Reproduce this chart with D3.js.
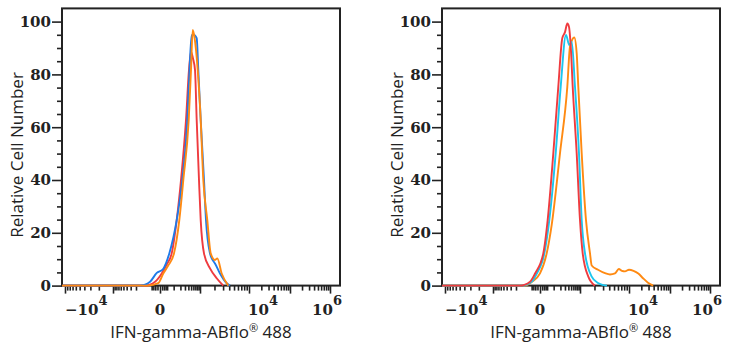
<!DOCTYPE html>
<html>
<head>
<meta charset="utf-8">
<script src="https://cdn.jsdelivr.net/npm/d3@7"></script>
<style>
  body { margin: 0; background: #fff; }
  svg { display: block; }
</style>
</head>
<body>
<svg id="chart" width="732" height="350"></svg>
<script>
// Histogram overlays: fluorescence intensity (biexponential axis) vs. % of mode.
// Each series is a list of [intensity, relative cell number] pairs.
const leftRed = [
  [-11500, 0], [-90, 0], [-21, 1.5], [8, 4.6], [37, 8], [79, 12.2], [139, 24.8],
  [211, 40], [328, 62.7], [421, 81.7], [495, 88.6], [581, 86], [680, 81.7],
  [776, 62.7], [926, 40], [1035, 24.8], [1214, 12.2], [1618, 6.5], [2222, 2.8],
  [3030, 0]
];
const leftBlue = [
  [-11500, 0], [-144, 0], [-50, 1.5], [-13, 4.8], [14, 6.2], [57, 12.2],
  [139, 24.8], [237, 40], [366, 62.7], [439, 81.7], [524, 94.9], [605, 95],
  [776, 93.7], [878, 81.7], [1035, 62.7], [1214, 40], [1336, 24.8], [1618, 12.2],
  [1866, 9.5], [2051, 8.4], [2596, 4.6], [3552, 0.9], [4144, 0]
];
const leftOrange = [
  [-11500, 0], [-63, 0], [-7, 0.9], [16, 4.6], [47, 7.5], [104, 12.2], [180, 24.8],
  [260, 40], [411, 62.7], [495, 81.7], [568, 96.8], [654, 94], [839, 81.7],
  [1035, 62.7], [1174, 40], [1422, 24.8], [1673, 12.2], [2051, 9.7], [2287, 10.3],
  [2811, 4.6], [3828, 0]
];

const rightRed = [
  [-11500, 0], [-144, 0], [-50, 1.5], [-21, 4.6], [16, 12.2], [44, 24.8], [96, 50.1],
  [163, 75.3], [237, 93.7], [301, 96], [366, 99.3], [421, 98], [495, 89],
  [568, 75.3], [776, 50.1], [1000, 24.8], [1140, 12.2], [1492, 3.4], [2051, 0]
];
const rightCyan = [
  [-11500, 0], [-124, 0], [-40, 1.5], [-13, 4.6], [22, 12.2], [57, 24.8], [125, 50.1],
  [205, 75.3], [328, 94.9], [432, 91.1], [524, 92.4], [680, 75.3], [926, 50.1],
  [1086, 24.8], [1274, 12.2], [1754, 3.4], [2363, 1], [3030, 0.2], [3600, 0]
];
const rightOrange = [
  [-11500, 0], [-90, 0], [-38, 1.5], [0, 4.6], [37, 12.2], [79, 23], [192, 50.1],
  [366, 75.3], [457, 90.5], [644, 94], [776, 88], [878, 75.3], [1086, 50.1],
  [1336, 24.8], [1618, 12.2], [1754, 7.6], [2363, 6], [3281, 4.7], [4144, 4.2],
  [5227, 4.6], [6237, 6.3], [7231, 5.6], [8308, 5.4], [10000, 6], [12888, 5.6],
  [16882, 4.6], [21985, 2.8], [29114, 1.1], [39000, 0]
];

// Axis ticks and labels
const yMajorTicks = [0, 20, 40, 60, 80, 100];
const yMinorTicks = [5, 10, 15, 25, 30, 35, 45, 50, 55, 65, 70, 75, 85, 90, 95];
const xMajorTicks = [-1e4, -1e3, 0, 1e3, 1e4, 1e5, 1e6];
const xMinorTicks = [
  -9000, -8000, -7000, -6000, -5000, -4000, -3000, -2000,
  -900, -800, -700, -600, -500, -400, -300, -200,
  -40, -30, -20, -10, 10, 20, 30, 40,
  100, 200, 300, 400, 500, 600, 700, 800, 900,
  2000, 3000, 4000, 5000, 6000, 7000, 8000, 9000,
  20000, 30000, 40000, 50000, 60000, 70000, 80000, 90000,
  200000, 300000, 400000, 500000, 600000, 700000, 800000, 900000
];
const xTickLabels = [
  { value: -1e4, base: "\u221210", exp: "4" },
  { value: 0, base: "0", exp: "" },
  { value: 1e4, base: "10", exp: "4" },
  { value: 1e6, base: "10", exp: "6" }
];
const xTitle = "IFN-gamma-ABflo";
const xTitleTail = " 488";
const yTitle = "Relative Cell Number";

const panels = [
  { series: [
      { data: leftRed, color: "#ef3b3f" },
      { data: leftBlue, color: "#1f7ae8" },
      { data: leftOrange, color: "#ff8a12" }
    ] },
  { series: [
      { data: rightOrange, color: "#ff8a12" },
      { data: rightCyan, color: "#1cc6ee" },
      { data: rightRed, color: "#ef3b3f" }
    ] }
];

// Layout
const plot = { left: 62, right: 340, top: 8.4, bottom: 285.6 };
const panelOffset = 380;
const ink = "#222";
const tickFont = "'DejaVu Serif', serif";
const titleFont = "'Open Sans', 'Noto Sans', sans-serif";

const x = d3.scaleSymlog()
  .constant(60)
  .domain(xMajorTicks)
  .range([65, 113, 160, 200, 249, 290, 330]);
const y = d3.scaleLinear().domain([0, 105]).range([plot.bottom, plot.top]);

const line = d3.line()
  .x(d => x(d[0]))
  .y(d => y(d[1]))
  .curve(d3.curveMonotoneX);

const svg = d3.select("#chart");

// label anchoring along the x axis
const labelAnchor = { "-10000": ["start", 0], "0": ["middle", 0], "10000": ["start", -1], "1000000": ["start", -18] };

panels.forEach((panel, i) => {
  const g = svg.append("g").attr("transform", `translate(${i * panelOffset},0)`);

  // plot frame
  g.append("rect")
    .attr("x", plot.left).attr("y", plot.top)
    .attr("width", plot.right - plot.left)
    .attr("height", plot.bottom - plot.top)
    .attr("fill", "none").attr("stroke", ink).attr("stroke-width", 2);

  // y axis
  const yMaj = g.append("g")
    .attr("transform", `translate(${plot.left},0)`)
    .call(d3.axisLeft(y).tickValues(yMajorTicks).tickSize(10).tickPadding(1).tickFormat(d3.format("d")));
  const yMin = g.append("g")
    .attr("transform", `translate(${plot.left},0)`)
    .call(d3.axisLeft(y).tickValues(yMinorTicks).tickSize(5).tickFormat(""));
  [yMaj, yMin].forEach(a => {
    a.select(".domain").remove();
    a.selectAll("line").attr("stroke", ink).attr("stroke-width", 1.6);
  });
  yMaj.selectAll("text")
    .attr("fill", ink)
    .style("font-family", tickFont)
    .style("font-weight", "bold")
    .style("font-size", "15px");

  // x axis
  const xMaj = g.append("g")
    .attr("transform", `translate(0,${plot.bottom})`)
    .call(d3.axisBottom(x).tickValues(xMajorTicks).tickSize(8).tickFormat(""));
  const xMin = g.append("g")
    .attr("transform", `translate(0,${plot.bottom})`)
    .call(d3.axisBottom(x).tickValues(xMinorTicks).tickSize(5).tickFormat(""));
  [xMaj, xMin].forEach(a => {
    a.select(".domain").remove();
    a.selectAll("line").attr("stroke", ink).attr("stroke-width", 1.6);
  });

  xTickLabels.forEach(lbl => {
    const [anchor, dx] = labelAnchor[String(lbl.value)];
    const t = g.append("text")
      .attr("x", x(lbl.value) + dx)
      .attr("y", 315)
      .attr("text-anchor", anchor)
      .attr("fill", ink)
      .style("font-family", tickFont)
      .style("font-weight", "bold")
      .style("font-size", "15px");
    t.append("tspan").text(lbl.base);
    if (lbl.exp) {
      t.append("tspan").attr("dy", -10).style("font-size", "13px").text(lbl.exp);
    }
  });

  // titles
  const xt = g.append("text")
    .attr("x", 201).attr("y", 337.5)
    .attr("text-anchor", "middle")
    .attr("fill", ink)
    .style("font-family", titleFont)
    .style("font-size", "17px");
  xt.append("tspan").text(xTitle);
  xt.append("tspan").attr("dy", -6).style("font-size", "11px").text("\u00AE");
  xt.append("tspan").attr("dy", 6).text(xTitleTail);

  g.append("text")
    .attr("transform", `translate(16,155) rotate(-90)`)
    .attr("text-anchor", "middle")
    .attr("dominant-baseline", "central")
    .attr("fill", ink)
    .style("font-family", titleFont)
    .style("font-size", "17px")
    .text(yTitle);

  // histogram curves
  panel.series.forEach(s => {
    g.append("path")
      .datum(s.data)
      .attr("d", line)
      .attr("fill", "none")
      .attr("stroke", s.color)
      .attr("stroke-width", 1.9)
      .attr("stroke-linejoin", "round");
  });
});
</script>
</body>
</html>
